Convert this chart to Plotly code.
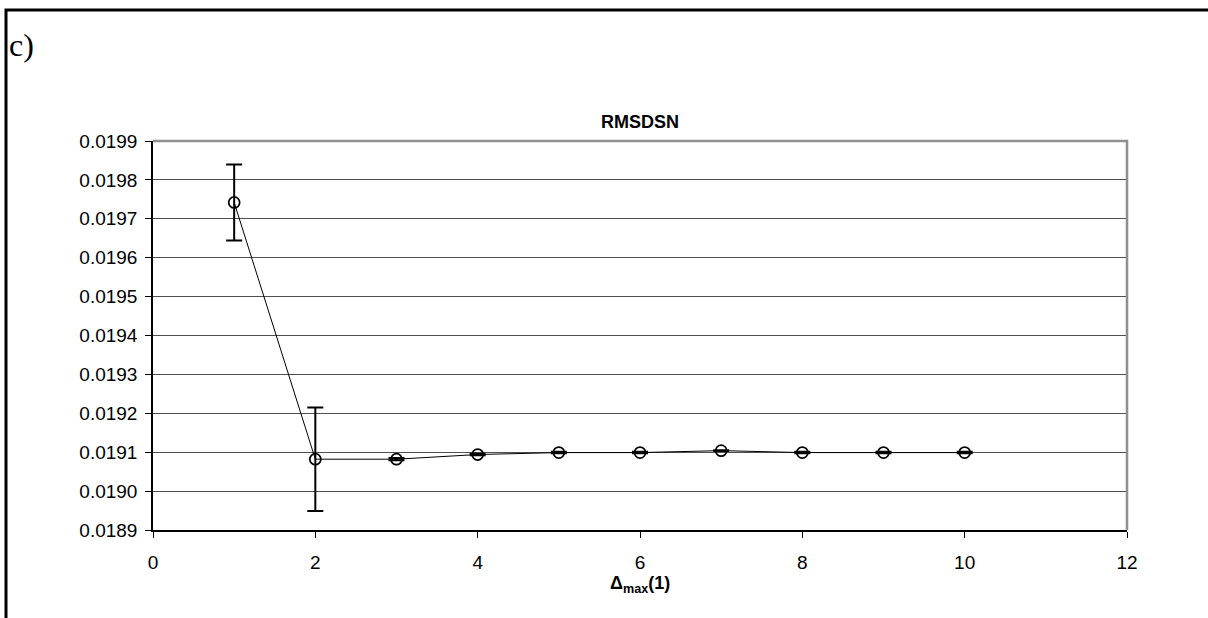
import plotly.graph_objects as go

x_vals = [1, 2, 3, 4, 5, 6, 7, 8, 9, 10]
y_vals = [0.019742, 0.019082, 0.019082, 0.019094, 0.019099, 0.019099, 0.019104, 0.019099, 0.019099, 0.019099]
y_err = [0.0000975, 0.000133, 0.000003, 0.000002, 0.000002, 0.000002, 0.000001, 0.000002, 0.000002, 0.000002]

W, H = 1208, 618
L, R, T, B = 153, 81, 141, 88
pw, ph = W - L - R, H - T - B

def px(xp):
    return (xp - L) / pw

def py(yp):
    return (H - B - yp) / ph

fig = go.Figure()
fig.add_trace(go.Scatter(
    x=x_vals, y=y_vals, mode="lines+markers",
    line=dict(color="black", width=1),
    marker=dict(symbol="circle-open", size=11, color="black", line=dict(width=1.7, color="black")),
    error_y=dict(type="data", array=y_err, visible=True, color="black", thickness=2, width=8),
    showlegend=False,
))

font = "Liberation Sans, Arial, sans-serif"
fig.update_layout(
    width=W, height=H,
    margin=dict(l=L, r=R, t=T, b=B),
    paper_bgcolor="white", plot_bgcolor="white",
    font=dict(family=font, color="black", size=19),
    xaxis=dict(range=[0, 12], dtick=2, tick0=0, showgrid=False, zeroline=False,
               showline=True, linecolor="black", linewidth=1.5,
               ticks="outside", ticklen=6, tickcolor="black", tickwidth=1,
               ticklabelstandoff=8,
               tickfont=dict(size=19, family=font)),
    yaxis=dict(range=[0.0189, 0.0199], dtick=0.0001, tick0=0.0189, tickformat=".4f",
               showgrid=True, gridcolor="#505050", gridwidth=1, zeroline=False,
               showline=True, linecolor="black", linewidth=1.5,
               ticks="outside", ticklen=6, tickcolor="black", tickwidth=1,
               ticklabelstandoff=4,
               tickfont=dict(size=19, family=font)),
    shapes=[
        dict(type="path", xref="paper", yref="paper",
             path="M 0,1 L 1,1 L 1,0", line=dict(color="#909090", width=2.5)),
        dict(type="path", xref="paper", yref="paper",
             path=f"M {px(6)},{py(640)} L {px(6)},{py(10)} L {px(1230)},{py(10)}",
             line=dict(color="black", width=3)),
    ],
    annotations=[
        dict(text="c)", xref="paper", yref="paper", x=px(7), y=py(45),
             xanchor="left", yanchor="middle", showarrow=False,
             font=dict(family="Liberation Serif, Times New Roman, serif", size=32, color="black")),
        dict(text="<b>RMSDSN</b>", xref="paper", yref="paper", x=0.5, y=py(122),
             xanchor="center", yanchor="middle", showarrow=False,
             font=dict(family=font, size=18, color="black")),
        dict(text="<b>Δ<sub>max</sub>(1)</b>", xref="paper", yref="paper", x=0.5, y=py(584),
             xanchor="center", yanchor="middle", showarrow=False,
             font=dict(family=font, size=18, color="black")),
    ],
)

fig.write_html("out.html", config={"displayModeBar": False},
               post_script="document.body.style.margin='0';")
